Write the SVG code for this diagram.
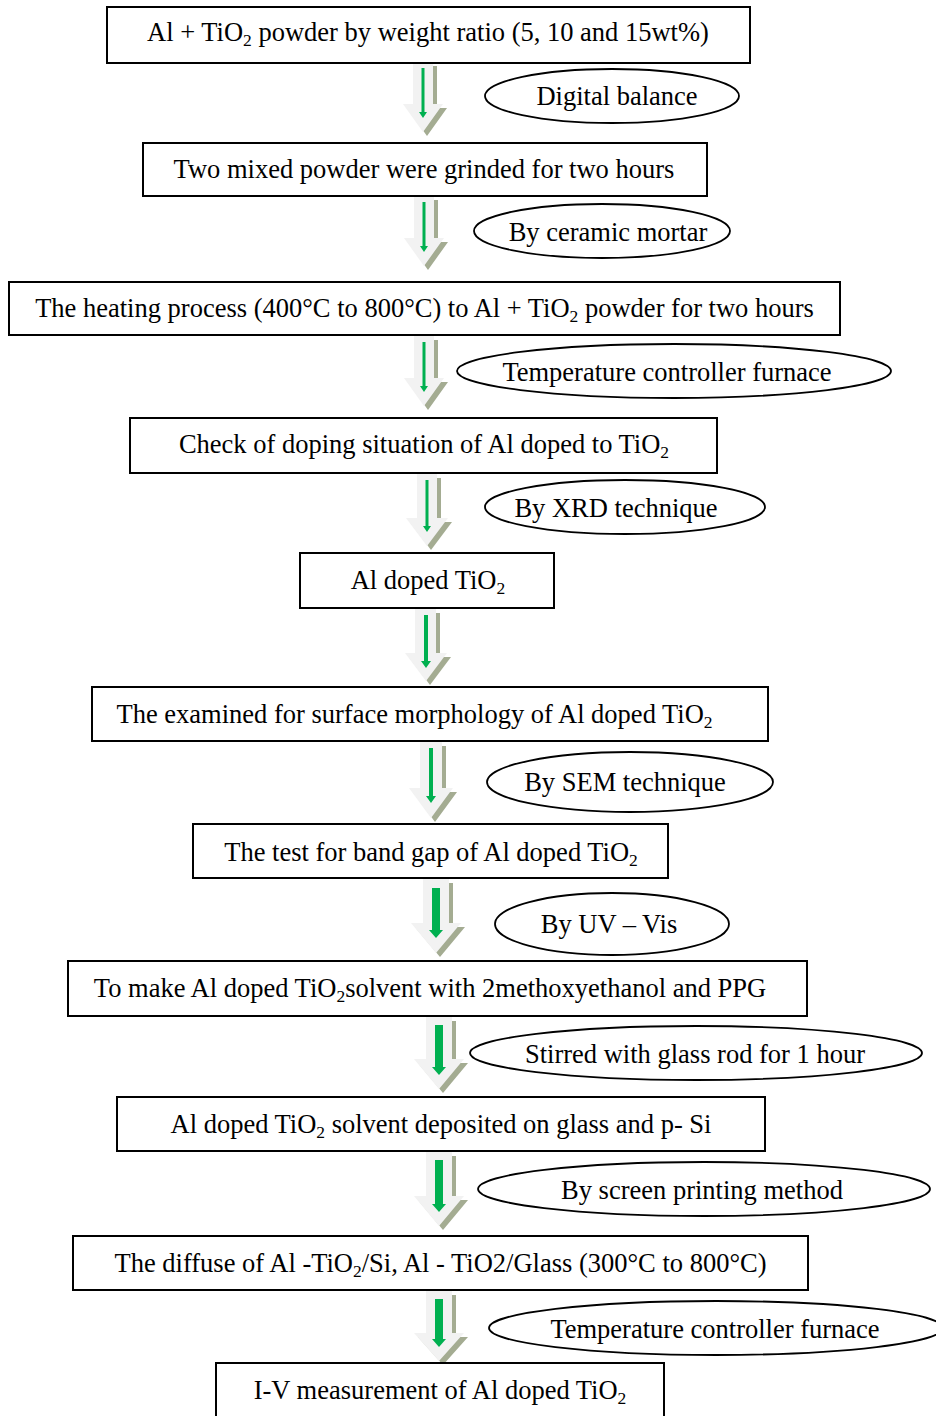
<svg xmlns="http://www.w3.org/2000/svg" width="936" height="1416" viewBox="0 0 936 1416">
<style>
.box{fill:#fff;stroke:#000;stroke-width:2}
.ell{fill:#fff;stroke:#000;stroke-width:1.8}
.t{font-family:"Liberation Serif","Times New Roman",serif;font-size:26.5px;fill:#000;text-anchor:middle}
.s{font-size:17.5px}
.sh{fill:#a4ac92}
.ar{fill:#f2f2f2}
.gr{fill:#00b050}
</style>
<rect width="936" height="1416" fill="#fff"/>
<g id="connectors">
<g transform="translate(423,62)"><path class="sh" d="M-10,0 h20 v42 h10 l-20,28 l-20,-28 h10 z" transform="translate(4,4)"/><path class="ar" d="M-10,0 h20 v42 h10 l-20,28 l-20,-28 h10 z"/><path class="gr" d="M-1.5,6 h3 v44 h2.5 l-4,6 l-4,-6 h2.5 z"/></g>
<g transform="translate(424,196)"><path class="sh" d="M-10,0 h20 v42 h10 l-20,28 l-20,-28 h10 z" transform="translate(4,4)"/><path class="ar" d="M-10,0 h20 v42 h10 l-20,28 l-20,-28 h10 z"/><path class="gr" d="M-1.5,6 h3 v44 h2.5 l-4,6 l-4,-6 h2.5 z"/></g>
<g transform="translate(424,336)"><path class="sh" d="M-10,0 h20 v42 h10 l-20,28 l-20,-28 h10 z" transform="translate(4,4)"/><path class="ar" d="M-10,0 h20 v42 h10 l-20,28 l-20,-28 h10 z"/><path class="gr" d="M-1.5,6 h3 v44 h2.5 l-4,6 l-4,-6 h2.5 z"/></g>
<g transform="translate(427,474)"><path class="sh" d="M-10,0 h20 v44 h11 l-21,28 l-21,-28 h11 z" transform="translate(4,4)"/><path class="ar" d="M-10,0 h20 v44 h11 l-21,28 l-21,-28 h11 z"/><path class="gr" d="M-1.5,6 h3 v46 h2.5 l-4,6 l-4,-6 h2.5 z"/></g>
<g transform="translate(426,609)"><path class="sh" d="M-11,0 h21 v44 h11 l-21,28 l-21,-28 h10 z" transform="translate(4,4)"/><path class="ar" d="M-11,0 h21 v44 h11 l-21,28 l-21,-28 h10 z"/><path class="gr" d="M-2,6 h4 v46 h3 l-5,7 l-5,-7 h3 z"/></g>
<g transform="translate(431,742)"><path class="sh" d="M-11,0 h22 v46 h11 l-22,30 l-22,-30 h11 z" transform="translate(4,4)"/><path class="ar" d="M-11,0 h22 v46 h11 l-22,30 l-22,-30 h11 z"/><path class="gr" d="M-2,6 h4 v48 h3 l-5,7 l-5,-7 h3 z"/></g>
<g transform="translate(436,879)"><path class="sh" d="M-13,0 h26 v44 h12 l-25,30 l-25,-30 h12 z" transform="translate(4,4)"/><path class="ar" d="M-13,0 h26 v44 h12 l-25,30 l-25,-30 h12 z"/><path class="gr" d="M-4,9 h8 v42 h3 l-7,8 l-7,-8 h3 z"/></g>
<g transform="translate(439,1017)"><path class="sh" d="M-13,0 h26 v42 h12 l-25,30 l-25,-30 h12 z" transform="translate(4,4)"/><path class="ar" d="M-13,0 h26 v42 h12 l-25,30 l-25,-30 h12 z"/><path class="gr" d="M-4,8 h8 v42 h3 l-7,8 l-7,-8 h3 z"/></g>
<g transform="translate(439,1152)"><path class="sh" d="M-13,0 h26 v44 h12 l-25,30 l-25,-30 h12 z" transform="translate(4,4)"/><path class="ar" d="M-13,0 h26 v44 h12 l-25,30 l-25,-30 h12 z"/><path class="gr" d="M-4,8 h8 v44 h3 l-7,8 l-7,-8 h3 z"/></g>
<g transform="translate(439,1291)"><path class="sh" d="M-13,0 h26 v42 h12 l-25,28 l-25,-28 h12 z" transform="translate(4,4)"/><path class="ar" d="M-13,0 h26 v42 h12 l-25,28 l-25,-28 h12 z"/><path class="gr" d="M-4,8 h8 v40 h3 l-7,8 l-7,-8 h3 z"/></g>
</g>
<g id="n1"><rect class="box" x="107" y="7" width="643" height="56"/><text class="t" x="428" y="41">Al + TiO<tspan class="s" dy="5">2</tspan><tspan dy="-5"> powder by weight ratio (5, 10 and 15wt%)</tspan></text></g>
<g id="e1"><ellipse class="ell" cx="612" cy="96" rx="127" ry="27"/><text class="t" x="617" y="105">Digital balance</text></g>
<g id="n2"><rect class="box" x="143" y="143" width="564" height="53"/><text class="t" x="424" y="178">Two mixed powder were grinded for two hours</text></g>
<g id="e2"><ellipse class="ell" cx="602" cy="231" rx="128" ry="27"/><text class="t" x="608" y="241">By ceramic mortar</text></g>
<g id="n3"><rect class="box" x="9" y="282" width="831" height="53"/><text class="t" x="424.5" y="317">The heating process (400°C to 800°C) to Al + TiO<tspan class="s" dy="5">2</tspan><tspan dy="-5"> powder for two hours</tspan></text></g>
<g id="e3"><ellipse class="ell" cx="674" cy="371" rx="217" ry="27"/><text class="t" x="667" y="381">Temperature controller furnace</text></g>
<g id="n4"><rect class="box" x="130" y="418" width="587" height="55"/><text class="t" x="424" y="453">Check of doping situation of Al doped to TiO<tspan class="s" dy="5">2</tspan></text></g>
<g id="e4"><ellipse class="ell" cx="625" cy="507" rx="140" ry="27"/><text class="t" x="616" y="517">By XRD technique</text></g>
<g id="n5"><rect class="box" x="300" y="553" width="254" height="55"/><text class="t" x="428" y="589">Al doped TiO<tspan class="s" dy="5">2</tspan></text></g>
<g id="n6"><rect class="box" x="92" y="687" width="676" height="54"/><text class="t" x="414.5" y="723">The examined for surface morphology of Al doped TiO<tspan class="s" dy="5">2</tspan></text></g>
<g id="e6"><ellipse class="ell" cx="630" cy="782" rx="143" ry="30"/><text class="t" x="625" y="791">By SEM technique</text></g>
<g id="n7"><rect class="box" x="193" y="824" width="475" height="54"/><text class="t" x="431" y="861">The test for band gap of Al doped TiO<tspan class="s" dy="5">2</tspan></text></g>
<g id="e7"><ellipse class="ell" cx="612" cy="924" rx="117" ry="31"/><text class="t" x="609" y="933">By UV – Vis</text></g>
<g id="n8"><rect class="box" x="68" y="961" width="739" height="55"/><text class="t" x="430" y="997">To make Al doped TiO<tspan class="s" dy="5">2</tspan><tspan dy="-5">solvent with 2methoxyethanol and PPG</tspan></text></g>
<g id="e8"><ellipse class="ell" cx="696" cy="1053" rx="226" ry="27"/><text class="t" x="695" y="1063">Stirred with glass rod for 1 hour</text></g>
<g id="n9"><rect class="box" x="117" y="1097" width="648" height="54"/><text class="t" x="441" y="1133">Al doped TiO<tspan class="s" dy="5">2</tspan><tspan dy="-5"> solvent deposited on glass and p- Si</tspan></text></g>
<g id="e9"><ellipse class="ell" cx="704" cy="1189" rx="226" ry="27"/><text class="t" x="702" y="1199">By screen printing method</text></g>
<g id="n10"><rect class="box" x="73" y="1236" width="735" height="54"/><text class="t" x="440.5" y="1272">The diffuse of Al -TiO<tspan class="s" dy="5">2</tspan><tspan dy="-5">/Si, Al - TiO2/Glass (300°C to 800°C)</tspan></text></g>
<g id="e10"><ellipse class="ell" cx="716" cy="1328" rx="227" ry="27"/><text class="t" x="715" y="1338">Temperature controller furnace</text></g>
<g id="n11"><rect class="box" x="216" y="1363" width="448" height="70"/><text class="t" x="440" y="1399">I-V measurement of Al doped TiO<tspan class="s" dy="5">2</tspan></text></g>
</svg>
